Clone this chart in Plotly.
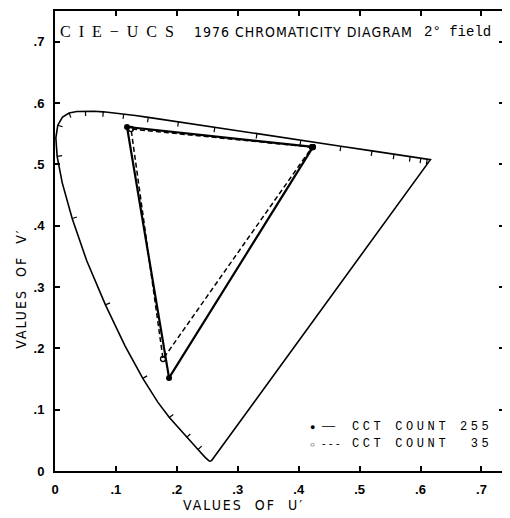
import numpy as np
import plotly.graph_objects as go

# ---- Spectral locus (CIE 1976 u'v', 2 deg observer) ----
wavelength = [380, 390, 400, 410, 420, 430, 440, 445, 450, 455, 460, 465, 470, 475,
              480, 485, 490, 495, 500, 505, 510, 515, 520, 525, 530, 535, 540, 545,
              550, 555, 560, 565, 570, 575, 580, 585, 590, 600, 610, 620, 630, 640,
              650, 660, 670]
locus_u = [0.2568, 0.2564, 0.2557, 0.2545, 0.2522, 0.2461, 0.2347, 0.2266, 0.2161,
           0.2033, 0.1877, 0.1690, 0.1441, 0.1147, 0.0828, 0.0521, 0.0282, 0.0119,
           0.0035, 0.0014, 0.0046, 0.0123, 0.0231, 0.0360, 0.0501, 0.0643, 0.0792,
           0.0953, 0.1127, 0.1319, 0.1531, 0.1766, 0.2026, 0.2312, 0.2623, 0.2960,
           0.3315, 0.4035, 0.4692, 0.5203, 0.5565, 0.5830, 0.6005, 0.6109, 0.6162]
locus_v = [0.0166, 0.0163, 0.0159, 0.0159, 0.0169, 0.0226, 0.0350, 0.0437, 0.0549,
           0.0688, 0.0871, 0.1119, 0.1510, 0.2044, 0.2708, 0.3427, 0.4117, 0.4698,
           0.5131, 0.5432, 0.5638, 0.5770, 0.5837, 0.5861, 0.5868, 0.5865, 0.5856,
           0.5841, 0.5821, 0.5796, 0.5766, 0.5732, 0.5694, 0.5651, 0.5604, 0.5554,
           0.5501, 0.5393, 0.5296, 0.5219, 0.5165, 0.5125, 0.5099, 0.5084, 0.5076]
tick_wavelengths = [440, 450, 460, 470, 480, 490, 500, 510, 520, 530, 540, 550,
                    560, 570, 580, 590, 600, 610, 620, 630, 640, 650, 660]

# ---- Gamut triangles (R, G, B, R) ----
count255_u = [0.4236, 0.1182, 0.1872, 0.4236]
count255_v = [0.5284, 0.5609, 0.1518, 0.5284]
count35_u = [0.4220, 0.1248, 0.1773, 0.4220]
count35_v = [0.5280, 0.5576, 0.1826, 0.5280]

axis_ticks = [0, 0.1, 0.2, 0.3, 0.4, 0.5, 0.6, 0.7]
axis_ticktext = ["0", ".1", ".2", ".3", ".4", ".5", ".6", ".7"]

X_RANGE = [0, 0.737]
Y_RANGE = [0, 0.75]
OFF = 8  # default page body margin of the html page
W, H = 510 - OFF, 518 - OFF
ML, MR, MT, MB = 55 - OFF, 6, 9 - OFF, 47
PW, PH = W - ML - MR, H - MT - MB
SX = PW / (X_RANGE[1] - X_RANGE[0])
SY = PH / (Y_RANGE[1] - Y_RANGE[0])

fig = go.Figure()

# locus, closed by the purple line
lu = locus_u + [locus_u[0]]
lv = locus_v + [locus_v[0]]
fig.add_trace(go.Scatter(x=lu, y=lv, mode="lines",
                         line=dict(color="black", width=1.6), hoverinfo="skip"))

# wavelength tick marks along the locus, pointing inward
U = np.array(locus_u)
V = np.array(locus_v)
tx_list, ty_list = [], []
tick_len = 5.0
for w in tick_wavelengths:
    i = wavelength.index(w)
    i0, i1 = max(i - 1, 0), min(i + 1, len(U) - 1)
    dx = (U[i1] - U[i0]) * SX
    dy = (V[i1] - V[i0]) * SY
    n = np.hypot(dx, dy)
    nx, ny = dy / n, -dx / n
    tx_list += [U[i], U[i] + nx * tick_len / SX, None]
    ty_list += [V[i], V[i] + ny * tick_len / SY, None]
fig.add_trace(go.Scatter(x=tx_list, y=ty_list, mode="lines",
                         line=dict(color="black", width=1.2), hoverinfo="skip"))

# triangles
fig.add_trace(go.Scatter(x=count35_u, y=count35_v, mode="lines+markers",
                         line=dict(color="black", width=1.5, dash="5px,3px"),
                         marker=dict(symbol="circle-open", size=5, color="black",
                                     line=dict(width=1.3)),
                         hoverinfo="skip"))
fig.add_trace(go.Scatter(x=count255_u, y=count255_v, mode="lines+markers",
                         line=dict(color="black", width=2.2),
                         marker=dict(symbol="circle", size=6, color="black"),
                         hoverinfo="skip"))


def px(xp):
    # page pixel x -> paper coordinate
    return (xp - OFF - ML) / PW


def py(yp):
    # page pixel y -> paper coordinate
    return (H - MB - (yp - OFF)) / PH


ann = []
# title inside the frame
ann.append(dict(x=px(58), y=py(30), xref="paper", yref="paper", xanchor="left",
                yanchor="middle", showarrow=False,
                text='<span style="letter-spacing:2px">C I E − U C S</span>',
                font=dict(family="Liberation Serif, Times New Roman, serif", size=16,
                          color="black")))
ann.append(dict(x=px(192), y=py(30), xref="paper", yref="paper", xanchor="left",
                yanchor="middle", showarrow=False,
                text='<span style="letter-spacing:1px">1976 CHROMATICITY DIAGRAM</span>',
                font=dict(family="Liberation Sans Narrow, DejaVu Sans Condensed, Arial Narrow, sans-serif",
                          size=14, color="black")))
ann.append(dict(x=px(422), y=py(30), xref="paper", yref="paper", xanchor="left",
                yanchor="middle", showarrow=False,
                text="2° field",
                font=dict(family="Liberation Mono, Courier New, monospace", size=14,
                          color="black")))
# legend
mono = "Liberation Mono, Courier New, monospace"
ann.append(dict(x=px(308), y=py(427), xref="paper", yref="paper", xanchor="left",
                yanchor="middle", showarrow=False,
                text='<span style="font-size:9px">●</span> ──',
                font=dict(family=mono, size=11, color="black")))
ann.append(dict(x=px(308), y=py(444), xref="paper", yref="paper", xanchor="left",
                yanchor="middle", showarrow=False,
                text='<span style="font-size:8px">○</span> <span style="letter-spacing:1px">---</span>',
                font=dict(family=mono, size=10, color="black")))
ann.append(dict(x=px(350), y=py(427), xref="paper", yref="paper", xanchor="left",
                yanchor="middle", showarrow=False,
                text='<span style="letter-spacing:3.6px">CCT COUNT 255</span>',
                font=dict(family=mono, size=12, color="black")))
ann.append(dict(x=px(350), y=py(444), xref="paper", yref="paper", xanchor="left",
                yanchor="middle", showarrow=False,
                text='<span style="letter-spacing:3.6px">CCT COUNT  35</span>',
                font=dict(family=mono, size=12, color="black")))
# axis titles
cond = "Liberation Sans Narrow, DejaVu Sans Condensed, Arial Narrow, sans-serif"
ann.append(dict(x=px(243), y=py(505), xref="paper", yref="paper", xanchor="center",
                yanchor="middle", showarrow=False,
                text='<span style="letter-spacing:2px">VALUES  OF  U′</span>',
                font=dict(family=cond, size=14, color="black")))
ann.append(dict(x=px(21), y=py(288), xref="paper", yref="paper", xanchor="center",
                yanchor="middle", showarrow=False, textangle=-90,
                text='<span style="letter-spacing:2px">VALUES  OF  V′</span>',
                font=dict(family=cond, size=14, color="black")))

axis_common = dict(tickvals=axis_ticks, ticktext=axis_ticktext, showgrid=False,
                   zeroline=False, showline=True, linewidth=2, linecolor="black",
                   mirror="ticks", ticks="inside", ticklen=5, tickwidth=1.5,
                   tickcolor="black",
                   tickfont=dict(family="Liberation Sans, Arial, sans-serif", size=13,
                                 color="black", weight="bold"))

fig.update_layout(
    width=W, height=H,
    margin=dict(l=ML, r=MR, t=MT, b=MB),
    paper_bgcolor="white", plot_bgcolor="white",
    showlegend=False,
    xaxis=dict(range=X_RANGE, ticklabelstandoff=5, **axis_common),
    yaxis=dict(range=Y_RANGE, ticklabelstandoff=6, **axis_common),
    annotations=ann,
)

fig.write_html("out.html")
